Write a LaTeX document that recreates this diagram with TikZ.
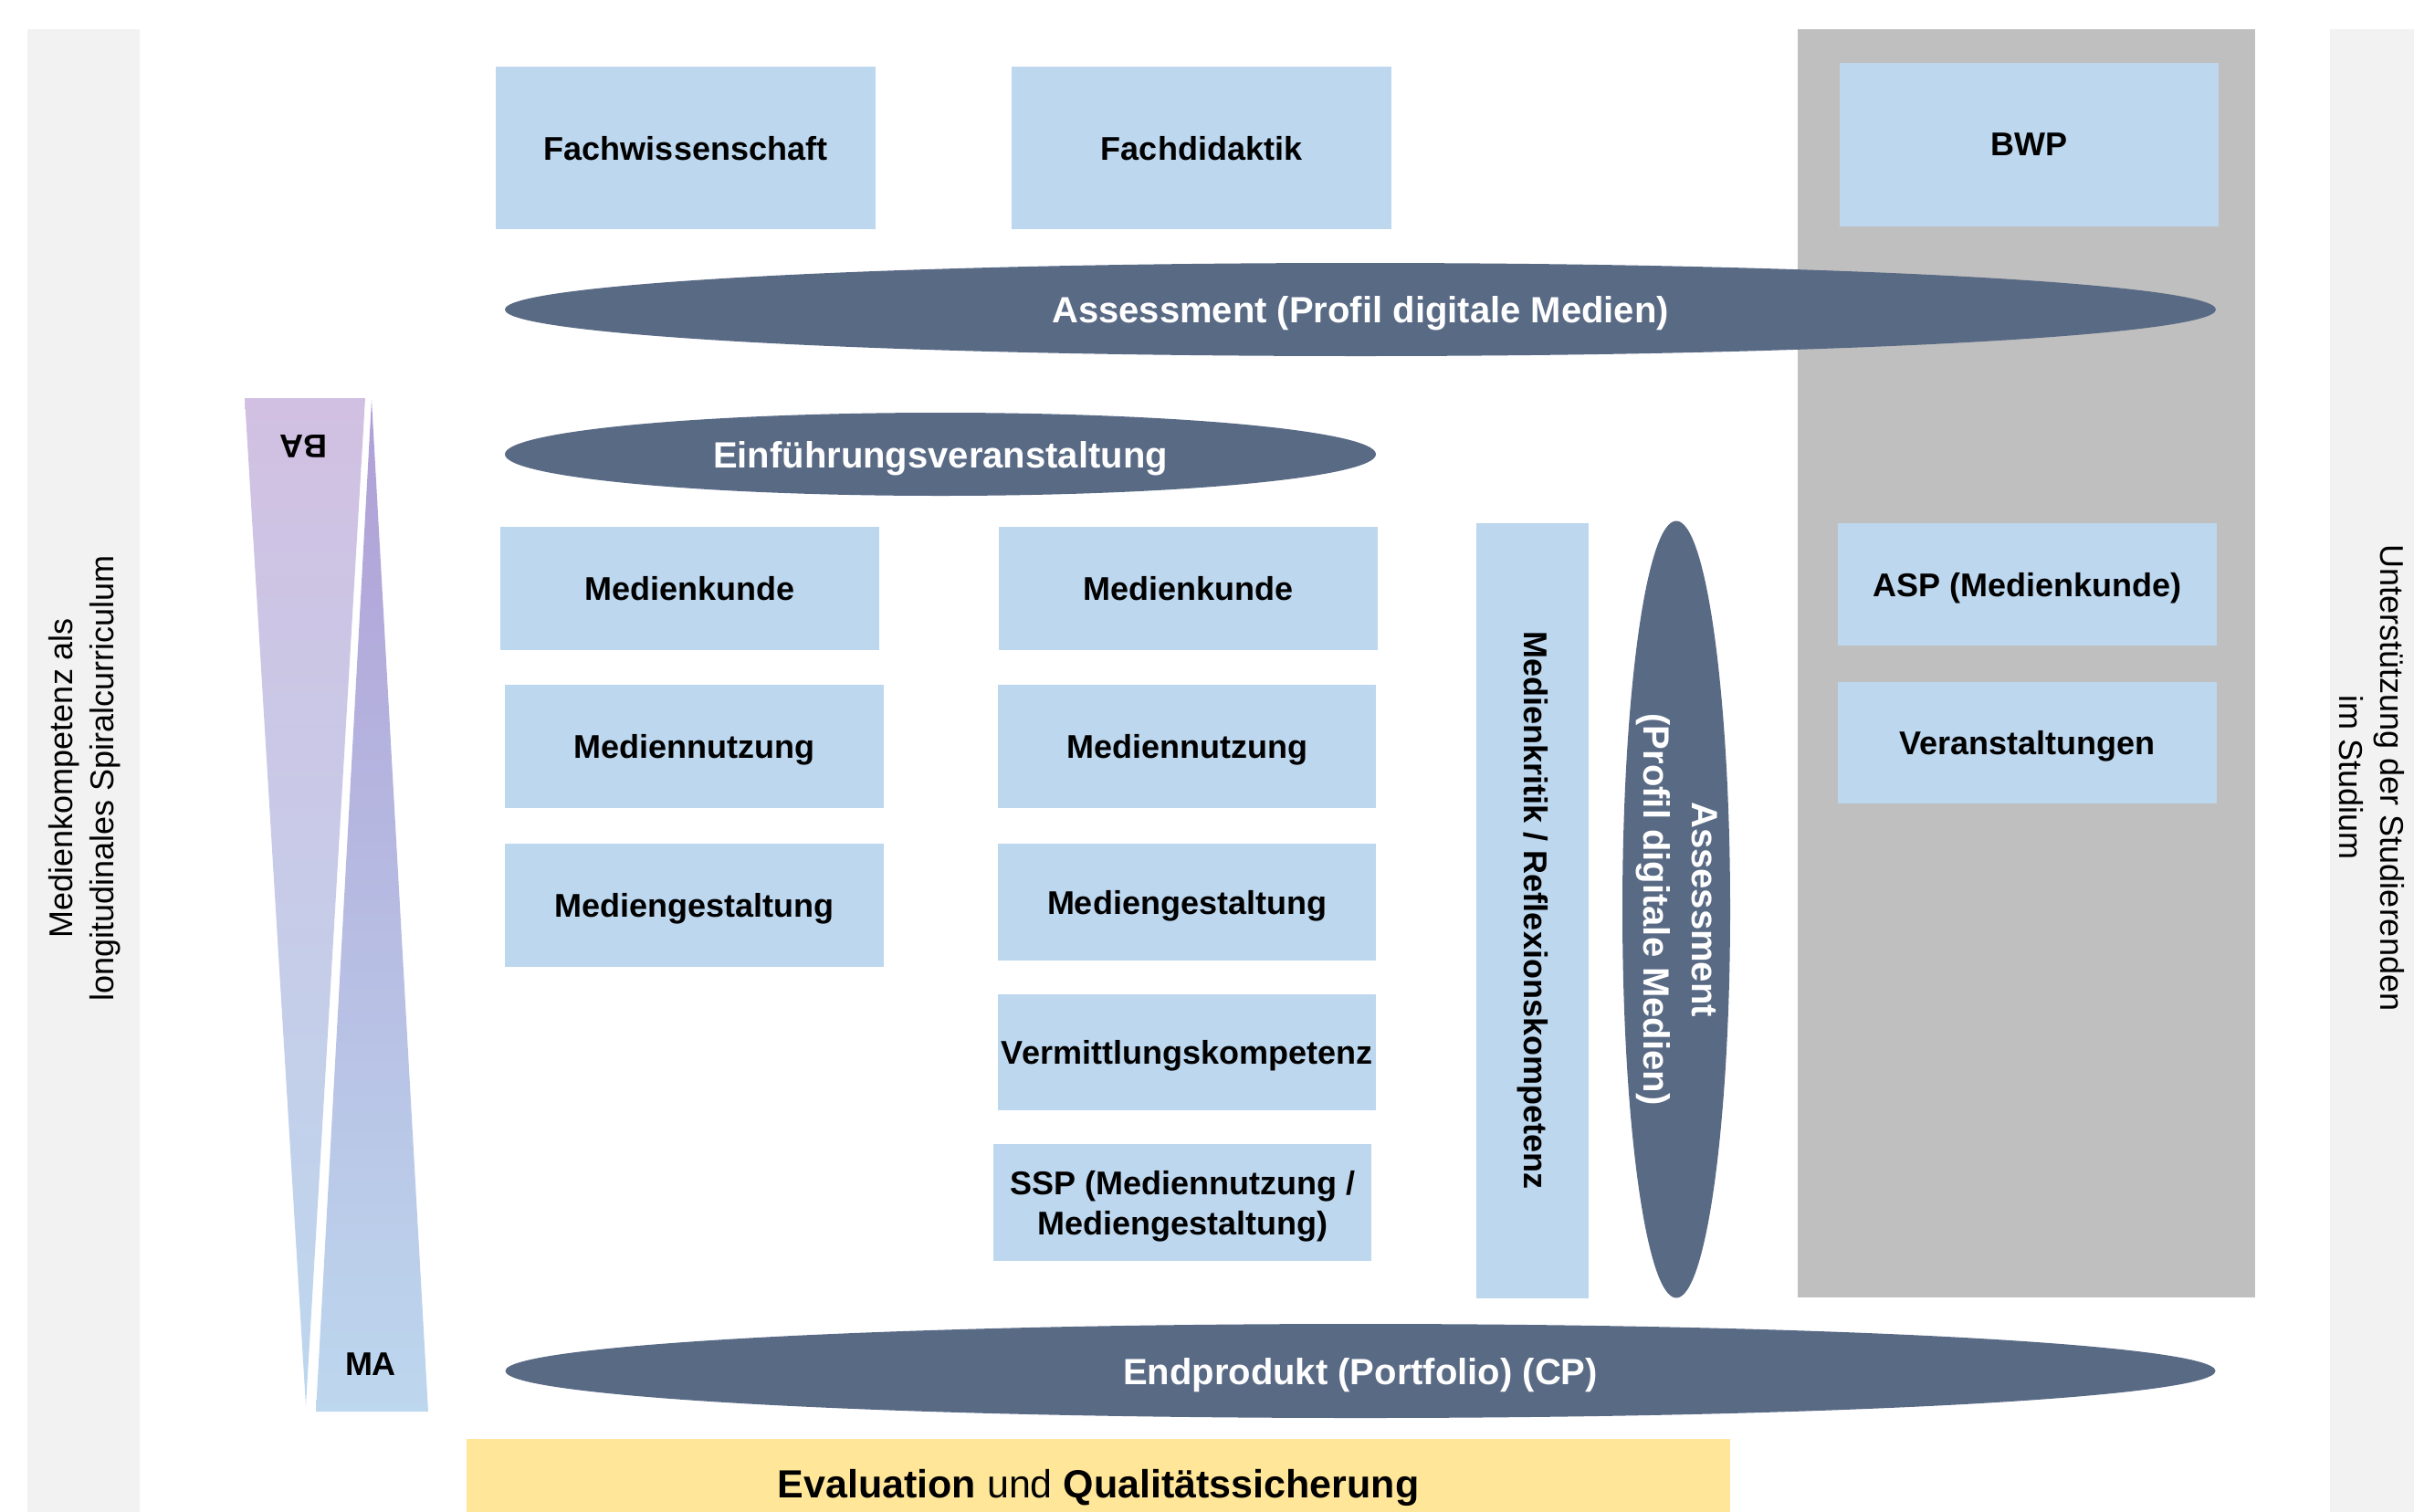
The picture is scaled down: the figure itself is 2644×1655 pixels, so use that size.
\documentclass[tikz,border=0pt]{standalone}
\usepackage{fontspec}
\setmainfont{Liberation Sans}
\usetikzlibrary{shapes.geometric}
\definecolor{lblue}{HTML}{BDD7EE}
\definecolor{dblue}{HTML}{596A85}
\definecolor{panelgray}{HTML}{BFBFBF}
\definecolor{stripgray}{HTML}{F2F2F2}
\definecolor{lyellow}{HTML}{FFE699}
\definecolor{baTop}{HTML}{D1C0E2}
\definecolor{maTop}{HTML}{B09FD6}
\tikzset{
  bluebox/.style={fill=lblue, inner sep=0pt, text depth=0pt, align=center, font=\bfseries\fontsize{36}{44}\selectfont},
  darkell/.style={ellipse, fill=dblue, inner sep=0pt, text depth=0pt, align=center, text=white, font=\bfseries\fontsize{40}{50}\selectfont},
  sidetext/.style={align=center, font=\fontsize{36}{45}\selectfont},
}
\begin{document}
\begin{tikzpicture}[x=1pt, y=-1pt]
\useasboundingbox (0,0) rectangle (2644,1655);
% side strips and panel
\fill[stripgray] (30,32) rectangle (153,1660);
\fill[stripgray] (2552,32) rectangle (2650,1660);
\fill[panelgray] (1969,32) rectangle (2470,1421);
\fill[lyellow] (511,1576) rectangle (1895,1660);
% triangles
\shade[top color=baTop, bottom color=lblue] (268,436) -- (400,436) -- (335,1540) -- cycle;
\shade[top color=maTop, bottom color=lblue] (407,438) -- (469,1546) -- (346,1546) -- cycle;
\node[font=\bfseries\fontsize{36}{44}\selectfont, rotate=180] (ba) at (332,489) {BA};
\node[font=\bfseries\fontsize{36}{44}\selectfont] (ma) at (406,1494) {MA};
% side texts
\node[sidetext, rotate=90] (lefttext) at (93,852) {Medienkompetenz als\\longitudinales Spiralcurriculum};
\node[sidetext, rotate=-90] (righttext) at (2598,852) {Unterstützung der Studierenden\\im Studium};
% top boxes
\node[bluebox, minimum width=416pt, minimum height=178pt] (fw) at (751,162) {Fachwissenschaft};
\node[bluebox, minimum width=416pt, minimum height=178pt] (fd) at (1316,162) {Fachdidaktik};
\node[bluebox, minimum width=415pt, minimum height=179pt] (bwp) at (2222.5,158.5) {BWP};
% ellipses
\node[darkell, minimum width=1874pt, minimum height=102pt] (ass1) at (1490,339) {Assessment (Profil digitale Medien)};
\node[darkell, minimum width=954pt, minimum height=91pt] (einf) at (1030,497.5) {Einführungsveranstaltung};
\node[darkell, minimum width=1873pt, minimum height=103pt] (endp) at (1490,1501.5) {Endprodukt (Portfolio) (CP)};
\node[darkell, minimum width=118pt, minimum height=851pt] (ass2) at (1836,996) {};
\node[text=white, font=\bfseries\fontsize{40}{53}\selectfont, align=center, rotate=-90] (ass2t) at (ass2.center) {Assessment\\(Profil digitale Medien)};
% left column
\node[bluebox, minimum width=415pt, minimum height=135pt] (mk1) at (755.5,644.5) {Medienkunde};
\node[bluebox, minimum width=415pt, minimum height=135pt] (mn1) at (760.5,817.5) {Mediennutzung};
\node[bluebox, minimum width=415pt, minimum height=135pt] (mg1) at (760.5,991.5) {Mediengestaltung};
% middle column
\node[bluebox, minimum width=415pt, minimum height=135pt] (mk2) at (1301.5,644.5) {Medienkunde};
\node[bluebox, minimum width=414pt, minimum height=135pt] (mn2) at (1300,817.5) {Mediennutzung};
\node[bluebox, minimum width=414pt, minimum height=128pt] (mg2) at (1300,988) {Mediengestaltung};
\node[bluebox, minimum width=414pt, minimum height=127pt] (vk) at (1300,1152.5) {Vermittlungskompetenz};
\node[bluebox, minimum width=414pt, minimum height=128pt] (ssp) at (1295,1317) {SSP (Mediennutzung /\\Mediengestaltung)};
% vertical box
\node[fill=lblue, inner sep=0pt, minimum width=123pt, minimum height=849pt] (mkr) at (1678.5,997) {};
\node[font=\bfseries\fontsize{36}{44}\selectfont, rotate=-90] (mkrt) at (mkr.center) {Medienkritik / Reflexionskompetenz};
% right panel boxes
\node[bluebox, minimum width=415pt, minimum height=134pt] (asp) at (2220.5,640) {ASP (Medienkunde)};
\node[bluebox, minimum width=415pt, minimum height=133pt] (ver) at (2220.5,813.5) {Veranstaltungen};
% evaluation
\node[anchor=base, inner sep=0pt, font=\fontsize{43}{50}\selectfont] (eval) at (1203,1640) {\textbf{Evaluation} und \textbf{Qualitätssicherung}};
\end{tikzpicture}
\end{document}
